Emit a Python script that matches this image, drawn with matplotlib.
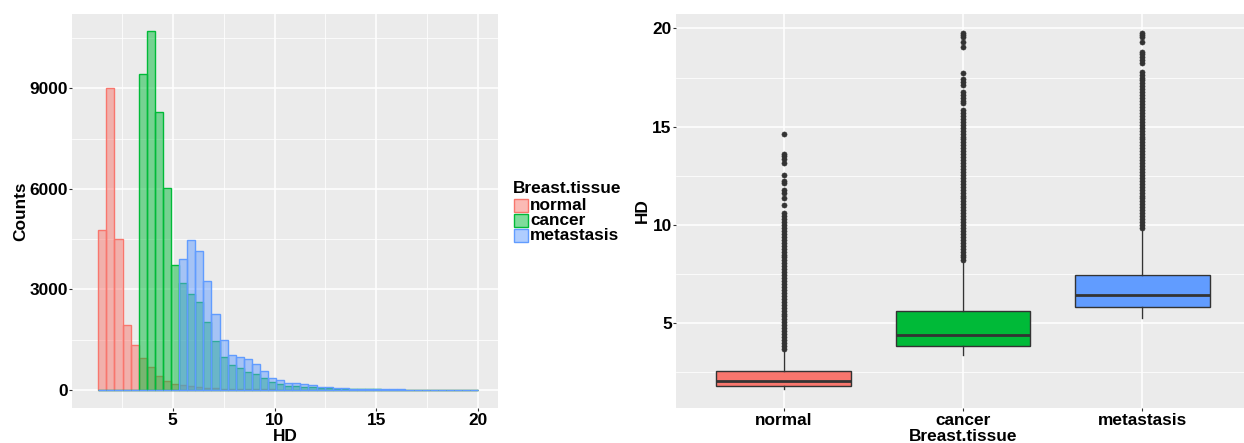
import numpy as np
import matplotlib
matplotlib.use("Agg")
import matplotlib.pyplot as plt
from matplotlib.colors import to_rgba
from matplotlib.patches import Rectangle

plt.rcParams['font.family'] = ['Liberation Sans', 'DejaVu Sans']
plt.rcParams['font.weight'] = 'bold'

W, H = 1244, 443

tissues = ['normal', 'cancer', 'metastasis']
colors = ['#F8766D', '#00BA38', '#619CFF']

# histogram of HD, 47 bins between these limits
bin_lo, bin_hi, n_bins = 1.347, 20.0, 47
normal_counts = [4768, 9020, 4511, 1926, 1327, 949, 667, 398, 262, 185,
                 140, 110, 80, 62, 48, 38, 30, 24, 19, 15,
                 12, 10, 8, 6, 5, 4, 3, 3, 2, 2,
                 1, 1, 1, 1, 0, 0, 0, 0, 0, 0,
                 0, 0, 0, 0, 0, 0, 0]
cancer_counts = [0, 0, 0, 0, 0,
                 9428, 10706, 8291, 6016, 3720, 3194, 2864, 2625, 2035, 1458,
                 979, 727, 650, 539, 470, 350, 248, 170, 120, 111,
                 90, 70, 55, 44, 35, 28, 22, 17, 13, 10,
                 8, 6, 5, 4, 3, 2, 2, 1, 1, 1, 1, 1]
metastasis_counts = [0, 0, 0, 0, 0, 0, 0, 0, 0, 0,
                     3912, 4481, 4139, 3253, 2266, 1497, 1039, 988, 907, 770,
                     560, 338, 290, 218, 200, 170, 140, 99, 90, 51,
                     42, 34, 28, 23, 18, 15, 12, 10, 8, 7,
                     6, 5, 4, 3, 3, 2, 2]

# boxplot statistics
box_q1 = [1.80, 3.85, 5.84]
box_med = [2.07, 4.42, 6.44]
box_q3 = [2.56, 5.61, 7.46]
whisk_lo = [1.64, 3.37, 5.28]
whisk_hi = [3.64, 8.13, 9.78]

normal_out = [3.70, 3.85, 4.00, 4.15, 4.30, 4.45, 4.60, 4.75, 4.90, 5.05,
              5.20, 5.35, 5.50, 5.65, 5.80, 5.95, 6.10, 6.25, 6.40, 6.55,
              6.70, 6.85, 7.00, 7.15, 7.30, 7.45, 7.60, 7.75, 7.90, 8.05,
              8.20, 8.35, 8.50, 8.65, 8.80, 8.95, 9.10, 9.25, 9.40, 9.55,
              9.70, 9.85, 10.00, 10.15, 10.30, 10.45, 10.60,
              11.03, 11.37, 11.62, 11.78, 12.13, 12.23, 12.56,
              13.13, 13.37, 13.51, 13.63, 14.61]
cancer_out = [8.20, 8.35, 8.50, 8.65, 8.80, 8.95, 9.10, 9.25, 9.40, 9.55,
              9.70, 9.85, 10.00, 10.15, 10.30, 10.45, 10.60, 10.75, 10.90, 11.05,
              11.20, 11.35, 11.50, 11.65, 11.80, 11.95, 12.10, 12.25, 12.40, 12.55,
              12.70, 12.85, 13.00, 13.15, 13.30, 13.45, 13.60, 13.75, 13.90, 14.05,
              14.20, 14.35, 14.50, 14.65, 14.80, 14.95, 15.10, 15.25, 15.40, 15.55,
              15.70, 15.85, 16.19, 16.32, 16.45, 16.60, 16.78, 17.12, 17.28, 17.41,
              17.74, 19.03, 19.32, 19.54, 19.66, 19.78]
metastasis_out = [9.85, 10.00, 10.15, 10.30, 10.45, 10.60, 10.75, 10.90, 11.05, 11.20,
                  11.35, 11.50, 11.65, 11.80, 11.95, 12.10, 12.25, 12.40, 12.55, 12.70,
                  12.85, 13.00, 13.15, 13.30, 13.45, 13.60, 13.75, 13.90, 14.05, 14.20,
                  14.35, 14.50, 14.65, 14.80, 14.95, 15.10, 15.25, 15.40, 15.55, 15.70,
                  15.85, 16.00, 16.15, 16.30, 16.45, 16.60, 16.75, 16.90, 17.05, 17.20,
                  17.35, 17.50, 17.65, 17.79, 18.25, 18.40, 18.55, 18.70, 18.81,
                  19.32, 19.54, 19.66, 19.78]

FS = 12.4
GRAY20 = '#333333'


def style_panel(ax):
    ax.set_facecolor('#EBEBEB')
    for s in ax.spines.values():
        s.set_visible(False)
    ax.set_axisbelow(True)
    ax.grid(which='major', color='white', linewidth=1.1)
    ax.grid(which='minor', color='white', linewidth=0.55)
    ax.tick_params(which='major', length=2.3, width=0.8, color=GRAY20,
                   labelsize=FS, labelcolor='black')
    ax.tick_params(axis='x', which='major', pad=1.2)
    ax.tick_params(axis='y', which='major', pad=0.8)
    ax.tick_params(which='minor', length=0)


fig = plt.figure(figsize=(W / 100, H / 100), dpi=100)

bot = (H - 407.7) / H
hgt = 393.7 / H
ax1 = fig.add_axes([72 / W, bot, 426 / W, hgt])
ax2 = fig.add_axes([676 / W, bot, 574 / W, hgt])

# ---- left: overlaid histograms
style_panel(ax1)
edges = np.linspace(bin_lo, bin_hi, n_bins + 1)
binw = edges[1] - edges[0]
for counts, c in zip([normal_counts, cancer_counts, metastasis_counts], colors):
    ax1.bar(edges[:-1], counts, width=binw, align='edge',
            facecolor=to_rgba(c, 0.5), edgecolor=c, linewidth=1.0)
ax1.set_xlim(0.056, 20.97)
ax1.set_ylim(-534, 11222)
ax1.set_xticks([5, 10, 15, 20])
ax1.set_xticks([2.5, 7.5, 12.5, 17.5], minor=True)
ax1.set_yticks([0, 3000, 6000, 9000])
ax1.set_yticks([1500, 4500, 7500, 10500], minor=True)
ax1.set_xlabel('HD', fontsize=FS, fontweight='bold', labelpad=1)
ax1.set_ylabel('Counts', fontsize=FS, fontweight='bold', labelpad=0.5)

# legend drawn by hand
fig.text(512.7 / W, 1 - 193.3 / H, 'Breast.tissue', fontsize=FS,
         fontweight='bold', va='baseline', ha='left')
for i, (lab, c) in enumerate(zip(tissues, colors)):
    y0 = 198.5 + i * 15
    fig.add_artist(Rectangle((513.5 / W, 1 - (y0 + 13.5) / H), 14 / W, 13.5 / H,
                             transform=fig.transFigure,
                             facecolor=to_rgba(c, 0.5), edgecolor=c, linewidth=1.0))
    fig.text(530 / W, 1 - (210 + i * 15) / H, lab, fontsize=FS,
             fontweight='bold', va='baseline', ha='left')

# ---- right: boxplots
style_panel(ax2)
stats = []
for i, out in enumerate([normal_out, cancer_out, metastasis_out]):
    stats.append({'med': box_med[i], 'q1': box_q1[i], 'q3': box_q3[i],
                  'whislo': whisk_lo[i], 'whishi': whisk_hi[i], 'fliers': out})
bp = ax2.bxp(stats, positions=[1, 2, 3], widths=0.75, patch_artist=True,
             showcaps=False,
             boxprops=dict(edgecolor=GRAY20, linewidth=1.0),
             whiskerprops=dict(color=GRAY20, linewidth=1.0),
             medianprops=dict(color=GRAY20, linewidth=2.0),
             flierprops=dict(marker='o', markersize=3.7, markerfacecolor=GRAY20,
                             markeredgecolor=GRAY20, markeredgewidth=0.4,
                             linestyle='none'))
for patch, c in zip(bp['boxes'], colors):
    patch.set_facecolor(c)
ax2.set_xlim(0.4, 3.6)
ax2.set_ylim(0.71, 20.73)
ax2.set_xticks([1, 2, 3])
ax2.set_xticklabels(tissues)
ax2.set_yticks([5, 10, 15, 20])
ax2.set_yticks([2.5, 7.5, 12.5, 17.5], minor=True)
ax2.set_xlabel('Breast.tissue', fontsize=FS, fontweight='bold', labelpad=1)
ax2.set_ylabel('HD', fontsize=FS, fontweight='bold', labelpad=1.5)

fig.savefig('out.png', dpi=100)
